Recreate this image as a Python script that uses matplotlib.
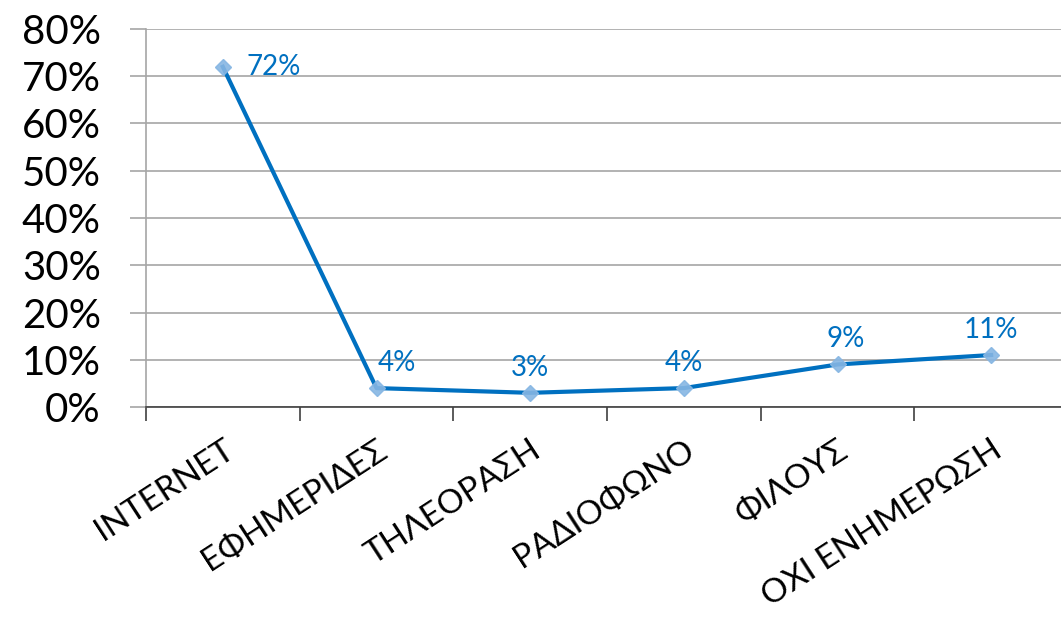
import matplotlib
matplotlib.use("Agg")
import matplotlib.pyplot as plt
import numpy as np

categories = ["INTERNET", "ΕΦΗΜΕΡΙΔΕΣ", "ΤΗΛΕΟΡΑΣΗ", "ΡΑΔΙΟΦΩΝΟ", "ΦΙΛΟΥΣ", "ΟΧΙ ΕΝΗΜΕΡΩΣΗ"]
values = [72, 4, 3, 4, 9, 11]
y_ticks = [0, 10, 20, 30, 40, 50, 60, 70, 80]
y_labels = ["0%", "10%", "20%", "30%", "40%", "50%", "60%", "70%", "80%"]

plt.rcParams['font.family'] = ['Lato', 'DejaVu Sans']

fig = plt.figure(figsize=(10.61, 6.2), dpi=100)
ax = fig.add_axes([146 / 1061, 213 / 620, 922 / 1061, 378 / 620])

x = np.arange(len(categories))
line_col = "#0070C0"
ax.plot(x, values, color=line_col, lw=3, zorder=3)
ax.plot(x, values, ls="none", marker="D", ms=8, color="#86b6e3", alpha=0.9, zorder=4)

# data labels
offsets = [(24, 0, "left", "center"), (20, 12, "center", "bottom"), (0, 12, "center", "bottom"),
           (0, 12, "center", "bottom"), (8, 12, "center", "bottom"), (0, 12, "center", "bottom")]
for xi, v, (dx, dy, ha, va) in zip(x, values, offsets):
    ax.annotate(f"{v}%", (xi, v), xytext=(dx, dy), textcoords="offset pixels",
                ha=ha, va=va, color=line_col, fontsize=20)

ax.set_xlim(-0.5, len(categories) - 0.5)
ax.set_ylim(0, 80)
ax.set_yticks(y_ticks)
ax.set_yticklabels(y_labels, fontsize=29)
ax.yaxis.grid(True, color="#a6a6a6", lw=1.2)
ax.set_axisbelow(True)
ax.tick_params(axis="y", length=11.5, width=1.2, color="#a6a6a6", pad=21)

ax.set_xticks(x)
ax.set_xticklabels(categories, rotation=33, ha="right", va="top",
                   rotation_mode="anchor", fontsize=24)
ax.tick_params(axis="x", length=0, pad=20)
ax.set_xticks(np.arange(-0.5, len(categories), 1.0), minor=True)
ax.tick_params(axis="x", which="minor", length=10, width=1.2, color="#404040")

for s in ["top", "right"]:
    ax.spines[s].set_visible(False)
ax.spines["left"].set_color("#a6a6a6")
ax.spines["left"].set_linewidth(1.2)
ax.spines["bottom"].set_color("#404040")
ax.spines["bottom"].set_linewidth(1.2)

fig.savefig("out.png", dpi=100)
